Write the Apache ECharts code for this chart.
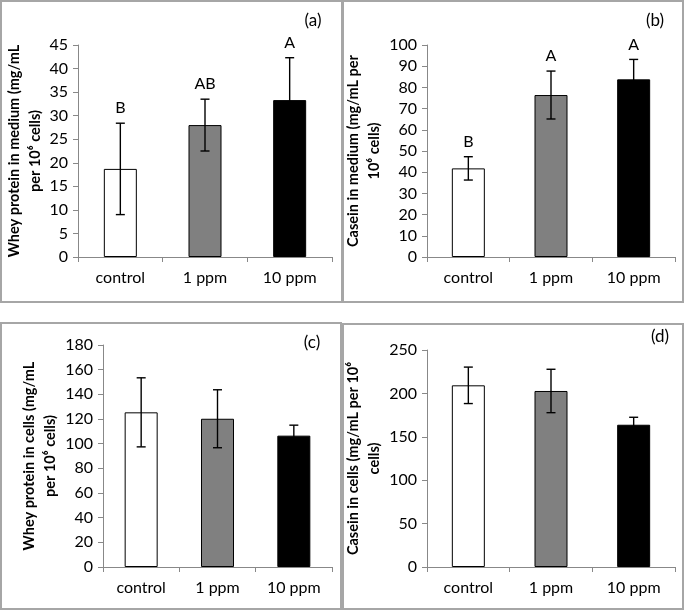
<!DOCTYPE html>
<html>
<head>
<meta charset="utf-8">
<script src="https://cdn.jsdelivr.net/npm/echarts@6/dist/echarts.min.js"></script>
<style>
  html, body { margin: 0; padding: 0; background: #fff; }
  #chart { width: 685px; height: 611px; }
</style>
</head>
<body>
<div id="chart"></div>
<script>
// categories and panel data
const categories = ['control', '1 ppm', '10 ppm'];
const barColors = ['#ffffff', '#808080', '#000000'];

const wheyMediumMean = [18.7, 28.0, 33.3];
const wheyMediumErr = [9.7, 5.5, 9.0];
const wheyMediumLetters = ['B', 'AB', 'A'];

const caseinMediumMean = [41.8, 76.4, 83.8];
const caseinMediumErr = [5.5, 11.3, 9.4];
const caseinMediumLetters = ['B', 'A', 'A'];

const wheyCellsMean = [125.4, 120.2, 106.5];
const wheyCellsErr = [28.0, 23.5, 8.5];

const caseinCellsMean = [209.3, 202.8, 163.9];
const caseinCellsErr = [21.0, 25.0, 8.6];

// y axis ranges: [max, interval]
const yMax = [45, 100, 180, 250];
const yStep = [5, 10, 20, 50];

const yNames = [
  'Whey protein in medium (mg/mL\nper 10⁶ cells)',
  'Casein in medium (mg/mL per\n10⁶ cells)',
  'Whey protein in cells (mg/mL\nper 10⁶ cells)',
  'Casein in cells (mg/mL per 10⁶\ncells)'
];
const panelTags = ['(a)', '(b)', '(c)', '(d)'];

const panels = [
  {mean: wheyMediumMean, err: wheyMediumErr, letters: wheyMediumLetters},
  {mean: caseinMediumMean, err: caseinMediumErr, letters: caseinMediumLetters},
  {mean: wheyCellsMean, err: wheyCellsErr, letters: null},
  {mean: caseinCellsMean, err: caseinCellsErr, letters: null}
];

const FONT = 'Lato, "Liberation Sans", sans-serif';

// layout (pixels)
const grids = [
  {left: 78, top: 45, width: 254, height: 212},
  {left: 427, top: 45, width: 248, height: 212},
  {left: 103, top: 345, width: 229, height: 222},
  {left: 427, top: 350, width: 248, height: 217}
];
const nameGaps = [30, 41, 42, 37];
const frames = [
  {x: 1, y: 1, w: 341, h: 301},
  {x: 343, y: 1, w: 340, h: 301},
  {x: 1, y: 323, w: 340, h: 286},
  {x: 343, y: 324, w: 340, h: 285}
];
const tagPos = [[313, 21], [655, 21], [312, 343], [660, 337]];

const myChart = echarts.init(document.getElementById('chart'));

const xAxis = [], yAxis = [], series = [];

grids.forEach((g, k) => {
  xAxis.push({
    type: 'category',
    gridIndex: k,
    data: categories,
    axisLine: {lineStyle: {color: '#888', width: 1}},
    axisTick: {show: true, length: 5, lineStyle: {color: '#888'}},
    axisLabel: {color: '#000', fontSize: 16, fontFamily: FONT, margin: 13}
  });
  yAxis.push({
    type: 'value',
    gridIndex: k,
    min: 0,
    max: yMax[k],
    interval: yStep[k],
    splitLine: {show: false},
    axisLine: {show: true, lineStyle: {color: '#888', width: 1}},
    axisTick: {show: true, length: 5, lineStyle: {color: '#888'}},
    axisLabel: {color: '#000', fontSize: 16, fontFamily: FONT, margin: 10},
    name: yNames[k],
    nameLocation: 'middle',
    nameGap: nameGaps[k],
    nameTextStyle: {
      color: '#000', fontSize: 14.5, fontWeight: 'bold', fontFamily: FONT, lineHeight: 21
    }
  });

  const p = panels[k];
  // bars
  series.push({
    type: 'bar',
    xAxisIndex: k,
    yAxisIndex: k,
    barWidth: 33,
    data: p.mean.map((v, i) => ({
      value: v,
      itemStyle: {color: barColors[i], borderColor: '#000', borderWidth: 1}
    }))
  });
  // error bars
  series.push({
    type: 'custom',
    xAxisIndex: k,
    yAxisIndex: k,
    z: 5,
    data: p.mean.map((v, i) => [i, v, p.err[i]]),
    renderItem: function (params, api) {
      const i = api.value(0), m = api.value(1), e = api.value(2);
      const top = api.coord([i, m + e]);
      const bot = api.coord([i, m - e]);
      const cap = 4.5;
      const st = {stroke: '#000', lineWidth: 1.4};
      return {
        type: 'group',
        children: [
          {type: 'line', shape: {x1: top[0], y1: top[1], x2: bot[0], y2: bot[1]}, style: st},
          {type: 'line', shape: {x1: top[0] - cap, y1: top[1], x2: top[0] + cap, y2: top[1]}, style: st},
          {type: 'line', shape: {x1: bot[0] - cap, y1: bot[1], x2: bot[0] + cap, y2: bot[1]}, style: st}
        ]
      };
    }
  });
  // significance letters
  if (p.letters) {
    series.push({
      type: 'custom',
      xAxisIndex: k,
      yAxisIndex: k,
      z: 6,
      data: p.mean.map((v, i) => [i, v + p.err[i]]),
      renderItem: function (params, api) {
        const pt = api.coord([api.value(0), api.value(1)]);
        return {
          type: 'text',
          style: {
            x: pt[0], y: pt[1] - 15,
            text: p.letters[params.dataIndex],
            fill: '#000', fontSize: 16, fontFamily: FONT,
            align: 'center', verticalAlign: 'middle'
          }
        };
      }
    });
  }
});

const graphic = [];
frames.forEach(f => {
  graphic.push({
    type: 'rect',
    shape: {x: f.x, y: f.y, width: f.w, height: f.h},
    style: {fill: 'none', stroke: '#a6a6a6', lineWidth: 2},
    z: 0
  });
});
tagPos.forEach((t, k) => {
  graphic.push({
    type: 'text',
    x: t[0], y: t[1],
    style: {
      text: panelTags[k], fill: '#000', fontSize: 17, fontFamily: FONT,
      align: 'center', verticalAlign: 'middle'
    }
  });
});

const option = {
  backgroundColor: '#fff',
  animation: false,
  grid: grids,
  xAxis: xAxis,
  yAxis: yAxis,
  graphic: graphic,
  series: series
};

myChart.setOption(option);
</script>
</body>
</html>
